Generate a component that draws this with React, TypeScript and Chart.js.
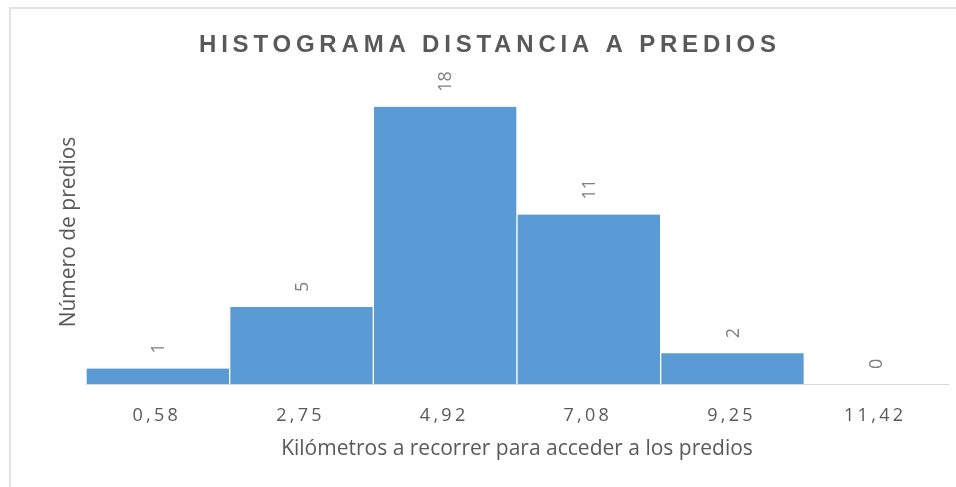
import React, { useEffect, useRef } from "react";
import { Chart, registerables } from "chart.js";

Chart.register(...registerables);

const chartTitle = "HISTOGRAMA DISTANCIA A PREDIOS";
const xAxisTitle = "Kilómetros a recorrer para acceder a los predios";
const yAxisTitle = "Número de predios";
const binLabels = ["0,58", "2,75", "4,92", "7,08", "9,25", "11,42"];
const binCounts = [1, 5, 18, 11, 2, 0];
const yMin = 0;
const yMax = 20;

const CANVAS_W = 945;
const CANVAS_H = 478;

const textPlugin = {
  id: "textPlugin",
  afterDraw(chart: any) {
    const ctx = chart.ctx as CanvasRenderingContext2D;
    const area = chart.chartArea;
    const xs = chart.scales.x;
    const ys = chart.scales.y;
    const cx = (area.left + area.right) / 2;
    const cy = (area.top + area.bottom) / 2;

    // Title
    ctx.save();
    ctx.font = "bold 24px 'Liberation Sans', Arial, sans-serif";
    ctx.fillStyle = "#595959";
    ctx.textAlign = "center";
    ctx.textBaseline = "alphabetic";
    (ctx as any).letterSpacing = "4.8px";
    ctx.fillText(chartTitle, 476.5 + 2.4, 43);
    ctx.restore();

    // Tick labels
    ctx.save();
    ctx.font = "18px 'Open Sans', sans-serif";
    ctx.fillStyle = "#595959";
    ctx.textAlign = "center";
    ctx.textBaseline = "alphabetic";
    (ctx as any).letterSpacing = "3.3px";
    binLabels.forEach((lab, i) => {
      const x = xs.getPixelForValue(i);
      ctx.fillText(lab, x - 1, area.bottom + 37);
    });
    ctx.restore();

    // X axis title
    ctx.save();
    ctx.font = "21px 'Open Sans', sans-serif";
    ctx.fillStyle = "#595959";
    ctx.textAlign = "center";
    ctx.textBaseline = "alphabetic";
    ctx.fillText(xAxisTitle, cx, area.bottom + 71);
    ctx.restore();

    // Y axis title
    ctx.save();
    ctx.font = "21px 'Open Sans', sans-serif";
    ctx.fillStyle = "#595959";
    ctx.textAlign = "center";
    ctx.textBaseline = "alphabetic";
    ctx.translate(area.left - 11, cy + 2);
    ctx.rotate(-Math.PI / 2);
    ctx.fillText(yAxisTitle, 0, 0);
    ctx.restore();

    // Data labels
    const meta = chart.getDatasetMeta(0);
    ctx.save();
    ctx.font = "18px 'Open Sans', sans-serif";
    ctx.fillStyle = "#7f7f7f";
    ctx.textAlign = "left";
    ctx.textBaseline = "middle";
    meta.data.forEach((bar: any, i: number) => {
      const v = binCounts[i];
      const x = bar.x;
      const y = ys.getPixelForValue(v) - 15;
      ctx.save();
      ctx.translate(x, y);
      ctx.rotate(-Math.PI / 2);
      ctx.fillText(String(v), 0, 1);
      ctx.restore();
    });
    ctx.restore();
  },
};

export default function App() {
  const ref = useRef<HTMLCanvasElement | null>(null);

  useEffect(() => {
    if (!ref.current) return;
    const chart = new Chart(ref.current, {
      type: "bar",
      data: {
        labels: binLabels,
        datasets: [
          {
            data: binCounts,
            backgroundColor: "#5B9BD5",
            borderColor: "#ffffff",
            borderWidth: { left: 1, right: 1, top: 0, bottom: 0 },
            barPercentage: 1,
            categoryPercentage: 1,
          },
        ],
      },
      options: {
        animation: false,
        responsive: false,
        devicePixelRatio: 1,
        layout: { padding: { left: 75, right: 8, top: 67, bottom: 103 } },
        plugins: {
          legend: { display: false },
          title: { display: false },
          tooltip: { enabled: false },
        },
        scales: {
          x: {
            grid: { display: false, drawTicks: false },
            border: { display: true, color: "#d9d9d9", width: 1 },
            ticks: { display: false },
          },
          y: { display: false, min: yMin, max: yMax },
        },
      },
      plugins: [textPlugin],
    });
    return () => chart.destroy();
  }, []);

  return (
    <div
      style={{
        position: "absolute",
        left: 9,
        top: 7,
        borderLeft: "2px solid #e3e3e3",
        borderTop: "2px solid #e3e3e3",
        width: CANVAS_W,
        height: CANVAS_H,
        overflow: "hidden",
        background: "#ffffff",
      }}
    >
      <canvas ref={ref} width={CANVAS_W} height={CANVAS_H} style={{ display: "block" }} />
    </div>
  );
}
